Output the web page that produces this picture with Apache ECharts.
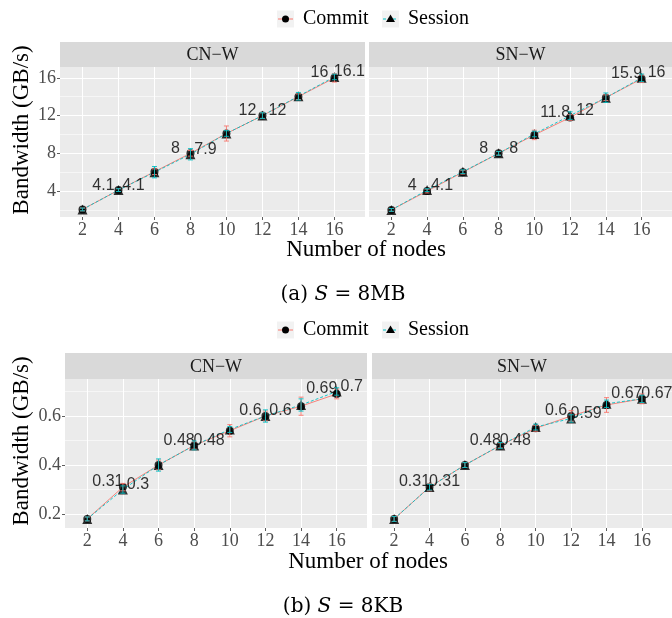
<!DOCTYPE html>
<html>
<head>
<meta charset="utf-8">
<script src="https://cdn.jsdelivr.net/npm/echarts@6/dist/echarts.min.js"></script>
<style>html,body{margin:0;padding:0;background:#fff;}#c{width:672px;height:618px;}</style>
</head>
<body>
<div id="c"></div>
<script>
// ---- data ----
const nodes = [2, 4, 6, 8, 10, 12, 14, 16];
const labelNodes = [4, 8, 12, 16];

// (a) S = 8MB
const mbCnCommit = [2.05, 4.1, 6.05, 8.0, 10.1, 12.0, 14.0, 16.0];
const mbCnCommitErr = [0.15, 0.15, 0.3, 0.3, 0.8, 0.3, 0.3, 0.45];
const mbCnSession = [2.05, 4.1, 6.0, 7.9, 10.1, 12.0, 14.05, 16.1];
const mbCnSessionErr = [0.15, 0.15, 0.6, 0.6, 0.3, 0.3, 0.4, 0.3];
const mbSnCommit = [2.0, 4.0, 6.0, 8.0, 9.95, 11.8, 13.9, 15.9];
const mbSnCommitErr = [0.15, 0.2, 0.2, 0.2, 0.5, 0.3, 0.3, 0.4];
const mbSnSession = [2.0, 4.1, 6.05, 8.0, 10.05, 12.0, 13.9, 16.0];
const mbSnSessionErr = [0.15, 0.15, 0.2, 0.2, 0.3, 0.4, 0.5, 0.4];

// (b) S = 8KB
const kbCnCommit = [0.18, 0.31, 0.40, 0.48, 0.54, 0.60, 0.64, 0.69];
const kbCnCommitErr = [0.008, 0.015, 0.02, 0.015, 0.025, 0.02, 0.037, 0.02];
const kbCnSession = [0.18, 0.30, 0.40, 0.48, 0.545, 0.60, 0.645, 0.70];
const kbCnSessionErr = [0.008, 0.015, 0.025, 0.018, 0.012, 0.025, 0.025, 0.015];
const kbSnCommit = [0.18, 0.31, 0.40, 0.48, 0.55, 0.60, 0.645, 0.67];
const kbSnCommitErr = [0.01, 0.015, 0.01, 0.01, 0.012, 0.022, 0.03, 0.02];
const kbSnSession = [0.18, 0.31, 0.40, 0.48, 0.555, 0.59, 0.65, 0.67];
const kbSnSessionErr = [0.01, 0.012, 0.01, 0.012, 0.012, 0.015, 0.015, 0.015];

const yMajorMB = [4, 8, 12, 16];
const yMinorMB = [2, 6, 10, 14];
const yMajorKB = [0.2, 0.4, 0.6];
const yMinorKB = [0.3, 0.5, 0.7];

const facetNames = ['CN\u2212W', 'SN\u2212W'];
const seriesNames = ['Commit', 'Session'];

// ---- style ----
const RED = '#F8766D', CYAN = '#00BFC4';
const SERIF = '"Liberation Serif", "Times New Roman", serif';
const SANS = '"Liberation Sans", Arial, sans-serif';
const CAPF = '"DejaVu Serif", serif';

const panels = [
  { grid: { left: 60, top: 67, width: 305, height: 150 }, strip: 25, facet: 0, c: mbCnCommit, ce: mbCnCommitErr, s: mbCnSession, se: mbCnSessionErr, y: [1.25, 17.15], maj: yMajorMB, min: yMinorMB, dig: 1, showY: true },
  { grid: { left: 369, top: 67, width: 303, height: 150 }, strip: 25, facet: 1, c: mbSnCommit, ce: mbSnCommitErr, s: mbSnSession, se: mbSnSessionErr, y: [1.25, 17.15], maj: yMajorMB, min: yMinorMB, dig: 1, showY: false },
  { grid: { left: 65, top: 379, width: 302, height: 149 }, strip: 26, facet: 0, c: kbCnCommit, ce: kbCnCommitErr, s: kbCnSession, se: kbCnSessionErr, y: [0.143, 0.751], maj: yMajorKB, min: yMinorKB, dig: 2, showY: true },
  { grid: { left: 372, top: 379, width: 300, height: 149 }, strip: 26, facet: 1, c: kbSnCommit, ce: kbSnCommitErr, s: kbSnSession, se: kbSnSessionErr, y: [0.143, 0.751], maj: yMajorKB, min: yMinorKB, dig: 2, showY: false }
];

function errRender(params, api) {
  const x = api.value(0), lo = api.value(1), hi = api.value(2);
  const p1 = api.coord([x, lo]), p2 = api.coord([x, hi]);
  const w = 2.5, col = api.visual('color');
  const st = { stroke: col, lineWidth: 0.9 };
  return { type: 'group', children: [
    { type: 'line', shape: { x1: p1[0], y1: p1[1], x2: p2[0], y2: p2[1] }, style: st },
    { type: 'line', shape: { x1: p1[0] - w, y1: p1[1], x2: p1[0] + w, y2: p1[1] }, style: st },
    { type: 'line', shape: { x1: p2[0] - w, y1: p2[1], x2: p2[0] + w, y2: p2[1] }, style: st }
  ]};
}

const grid = [], xAxis = [], yAxis = [], series = [], graphic = [];

panels.forEach((p, i) => {
  grid.push(Object.assign({ containLabel: false, backgroundColor: '#EBEBEB', show: true, borderWidth: 0 }, p.grid));
  xAxis.push({
    type: 'value', gridIndex: i, min: 0.75, max: 17.7,
    axisLine: { show: false },
    axisTick: { show: true, length: 3, lineStyle: { color: '#333333', width: 0.8 }, customValues: nodes },
    axisLabel: { show: true, customValues: nodes, color: '#4D4D4D', fontFamily: SERIF, fontSize: 18, margin: 4 },
    splitLine: { show: true, lineStyle: { color: '#FFFFFF', width: 1.1 } }
  });
  yAxis.push({
    type: 'value', gridIndex: i, min: p.y[0], max: p.y[1], position: 'left',
    axisLine: { show: false },
    axisTick: { show: p.showY, length: 3, lineStyle: { color: '#333333', width: 0.8 }, customValues: p.maj },
    axisLabel: { show: p.showY, customValues: p.maj, color: '#4D4D4D', fontFamily: SERIF, fontSize: 18, margin: 4 },
    splitLine: { show: true, lineStyle: { color: '#FFFFFF', width: 1.1 } }
  });
  yAxis.push({
    type: 'value', gridIndex: i, min: p.y[0], max: p.y[1], position: 'right',
    axisLine: { show: false },
    axisTick: { show: false, customValues: p.min },
    axisLabel: { show: false, customValues: p.min },
    splitLine: { show: true, lineStyle: { color: '#FFFFFF', width: 0.55 } }
  });
  const yIdx = i * 2;
  const sets = [
    { name: seriesNames[0], vals: p.c, err: p.ce, color: RED, type: 'solid', sym: 'circle', size: 8, off: -15 },
    { name: seriesNames[1], vals: p.s, err: p.se, color: CYAN, type: [3, 2], sym: 'triangle', size: 10, off: 15 }
  ];
  sets.forEach(s => {
    const pts = nodes.map((n, k) => [n, s.vals[k]]);
    series.push({
      name: s.name, type: 'line', xAxisIndex: i, yAxisIndex: yIdx, data: pts,
      showSymbol: false, symbol: 'none', silent: true, animation: false, z: 2,
      lineStyle: { color: s.color, width: 0.9, type: s.type }
    });
  });
  sets.forEach(s => {
    const pts = nodes.map((n, k) => [n, s.vals[k]]);
    series.push({
      name: s.name, type: 'scatter', xAxisIndex: i, yAxisIndex: yIdx, data: pts,
      symbol: s.sym, symbolSize: s.size, animation: false, z: 3,
      itemStyle: { color: '#000000' },
      label: {
        show: true, position: 'inside', offset: [s.off, -5],
        fontFamily: SANS, fontSize: 16, color: '#000000', textBorderWidth: 0, textBorderColor: 'transparent',
        formatter: (d) => labelNodes.indexOf(d.value[0]) >= 0 ? String(parseFloat(d.value[1].toFixed(p.dig))) : ''
      }
    });
  });
  sets.forEach(s => {
    const eb = nodes.map((n, k) => [n, s.vals[k] - s.err[k], s.vals[k] + s.err[k]]);
    series.push({
      name: s.name + ' err', type: 'custom', xAxisIndex: i, yAxisIndex: yIdx, data: eb,
      renderItem: errRender, itemStyle: { color: s.color }, animation: false, z: 4,
      encode: { x: 0, y: [1, 2] }
    });
  });
  // facet strip
  const g = p.grid;
  graphic.push({ type: 'rect', shape: { x: g.left, y: g.top - p.strip, width: g.width, height: p.strip }, style: { fill: '#D9D9D9' }, silent: true });
  graphic.push({ type: 'text', style: { text: facetNames[p.facet], x: g.left + g.width / 2, y: g.top - p.strip / 2 + 1, align: 'center', verticalAlign: 'middle', font: '18px ' + SERIF, fill: '#1A1A1A' }, silent: true });
});

// axis titles, legends, captions
function addFigureText(yTitleCenterY, xTitleX, xTitleY, legendY, captionY, captionTag, captionUnit) {
  graphic.push({ type: 'text', rotation: Math.PI / 2, x: 22, y: yTitleCenterY, style: { text: 'Bandwidth (GB/s)', x: 0, y: 0, align: 'center', verticalAlign: 'middle', font: '23px ' + SERIF, fill: '#000000' }, silent: true });
  graphic.push({ type: 'text', style: { text: 'Number of nodes', x: xTitleX, y: xTitleY, align: 'center', verticalAlign: 'middle', font: '23px ' + SERIF, fill: '#000000' }, silent: true });
  // legend keys
  const k1 = 277, k2 = 382, ks = 17;
  graphic.push({ type: 'rect', shape: { x: k1, y: legendY - ks / 2, width: ks, height: ks }, style: { fill: '#F2F2F2' }, silent: true });
  graphic.push({ type: 'line', shape: { x1: k1 + 1, y1: legendY, x2: k1 + ks - 1, y2: legendY }, style: { stroke: RED, lineWidth: 1 }, silent: true });
  graphic.push({ type: 'circle', shape: { cx: k1 + ks / 2, cy: legendY, r: 3.5 }, style: { fill: '#000' }, silent: true });
  graphic.push({ type: 'text', style: { text: seriesNames[0], x: k1 + ks + 9, y: legendY, align: 'left', verticalAlign: 'middle', font: '20px ' + SERIF, fill: '#000' }, silent: true });
  graphic.push({ type: 'rect', shape: { x: k2, y: legendY - ks / 2, width: ks, height: ks }, style: { fill: '#F2F2F2' }, silent: true });
  graphic.push({ type: 'line', shape: { x1: k2 + 1, y1: legendY, x2: k2 + ks - 1, y2: legendY }, style: { stroke: CYAN, lineWidth: 1, lineDash: [3, 2] }, silent: true });
  graphic.push({ type: 'polygon', shape: { points: [[k2 + ks / 2, legendY - 4.5], [k2 + ks / 2 - 4.5, legendY + 3], [k2 + ks / 2 + 4.5, legendY + 3]] }, style: { fill: '#000' }, silent: true });
  graphic.push({ type: 'text', style: { text: seriesNames[1], x: k2 + ks + 9, y: legendY, align: 'left', verticalAlign: 'middle', font: '20px ' + SERIF, fill: '#000' }, silent: true });
  // caption
  graphic.push({ type: 'text', style: {
    text: '{n|' + captionTag + ' }{i|S}{n| = ' + captionUnit + '}', x: 343, y: captionY, align: 'center', verticalAlign: 'middle',
    rich: { n: { fontFamily: CAPF, fontSize: 20, fill: '#000' }, i: { fontFamily: CAPF, fontSize: 20, fontStyle: 'italic', fill: '#000' } }
  }, silent: true });
}
addFigureText(130, 366, 250, 19, 295, '(a)', '8MB');
addFigureText(441, 368, 562, 330, 607, '(b)', '8KB');

const chart = echarts.init(document.getElementById('c'), null, { renderer: 'canvas' });
chart.setOption({ animation: false, backgroundColor: '#FFFFFF', grid, xAxis, yAxis, series, graphic, tooltip: { show: false } });
</script>
</body>
</html>
